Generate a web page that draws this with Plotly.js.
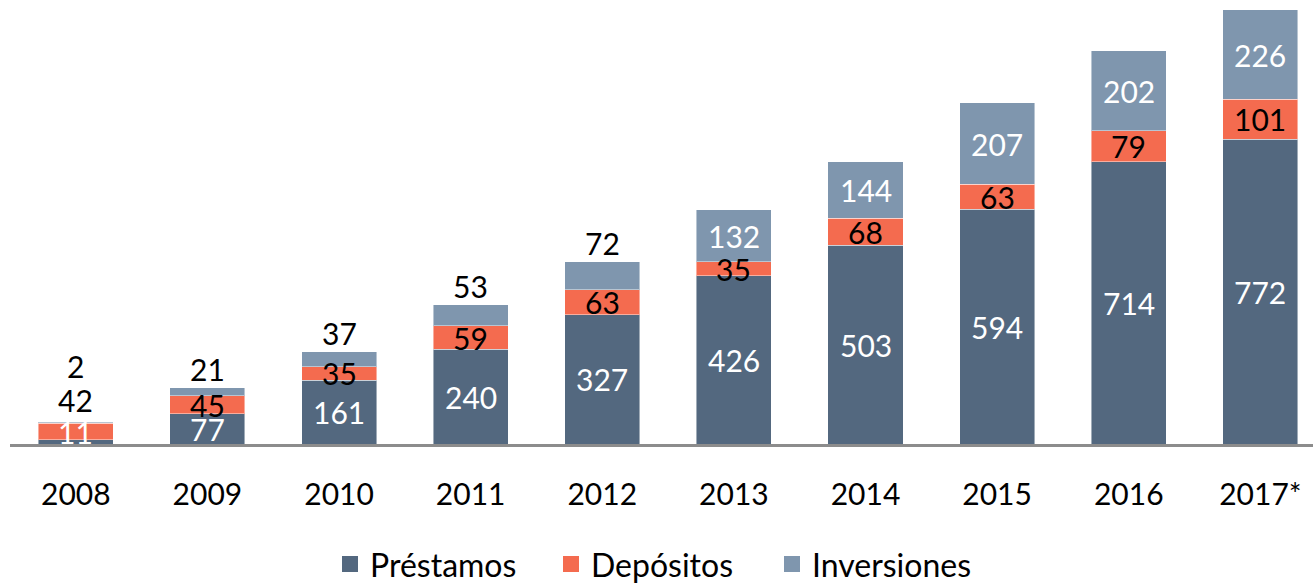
<!DOCTYPE html>
<html>
<head>
<meta charset="utf-8">
<script src="https://cdn.plot.ly/plotly-3.0.1.min.js"></script>
<style>html,body{margin:0;padding:0;background:#fff;}#chart{width:1313px;height:584px;}</style>
</head>
<body>
<div id="chart"></div>
<script>
var years = ['2008','2009','2010','2011','2012','2013','2014','2015','2016','2017*'];
var prestamos = [11, 77, 161, 240, 327, 426, 503, 594, 714, 772];
var depositos = [42, 45, 35, 59, 63, 35, 68, 63, 79, 101];
var inversiones = [2, 21, 37, 53, 72, 132, 144, 207, 202, 226];
var seriesNames = ['Préstamos', 'Depósitos', 'Inversiones'];

var cDark = '#53687F', cRed = '#F46B4F', cLight = '#7F96AE';
var colors = [cDark, cRed, cLight];
var FONT = 'Lato, "Open Sans", sans-serif';

function barTrace(name, vals, color) {
  return {
    type: 'bar', name: name, x: years, y: vals, showlegend: false,
    marker: {color: color, line: {color: 'rgba(255,255,255,0.45)', width: 1}},
    hoverinfo: 'none'
  };
}
var data = [
  barTrace(seriesNames[0], prestamos, cDark),
  barTrace(seriesNames[1], depositos, cRed),
  barTrace(seriesNames[2], inversiones, cLight)
];
// legend entries (square swatches)
seriesNames.forEach(function (n, k) {
  data.push({type: 'scatter', mode: 'markers', name: n, x: [null], y: [null],
    marker: {symbol: 'square', size: 19, color: colors[k]}, showlegend: true, hoverinfo: 'none'});
});

var annotations = [];
function lab(x, y, t, col) {
  annotations.push({x: x, y: y, xref: 'x', yref: 'y', text: String(t), showarrow: false,
    xanchor: 'center', yanchor: 'middle', font: {family: FONT, size: 30, color: col}});
}
(function () {
  for (var i = 0; i < years.length; i++) {
    var p = prestamos[i], d = depositos[i], v = inversiones[i];
    var yP = Math.max(p / 2, 30);
    lab(i, yP, p, '#ffffff');
    var yD = (p < 30) ? yP + 82 : p + d / 2;
    lab(i, yD, d, '#000000');
    var stackTop = p + d + v;
    if (v >= 100) {
      lab(i, p + d + v / 2, v, '#ffffff');
    } else {
      lab(i, Math.max(stackTop + 47, yD + 85), v, '#000000');
    }
  }
})();

var layout = {
  width: 1313, height: 584,
  margin: {l: 10, r: 0, t: 0, b: 140, autoexpand: false},
  paper_bgcolor: '#ffffff', plot_bgcolor: '#ffffff',
  barmode: 'stack', bargap: 0.43,
  showlegend: true,
  legend: {orientation: 'h', x: 0.5, xanchor: 'center', y: -0.271, yanchor: 'middle',
    font: {family: FONT, size: 32, color: '#000'}, traceorder: 'normal', itemsizing: 'trace',
    entrywidth: 176, entrywidthmode: 'pixels'},
  xaxis: {type: 'category', range: [-0.5, 9.4], autorange: false,
    showline: true, linecolor: '#8C8C8C', linewidth: 2.5, ticks: '',
    showgrid: false, zeroline: false, ticklabelstandoff: 22,
    tickfont: {family: FONT, size: 30, color: '#000'}},
  yaxis: {range: [0, 1124], autorange: false, visible: false, showgrid: false, zeroline: false},
  annotations: annotations,
  font: {family: FONT}
};
Plotly.newPlot('chart', data, layout, {displayModeBar: false, staticPlot: true});
</script>
</body>
</html>
